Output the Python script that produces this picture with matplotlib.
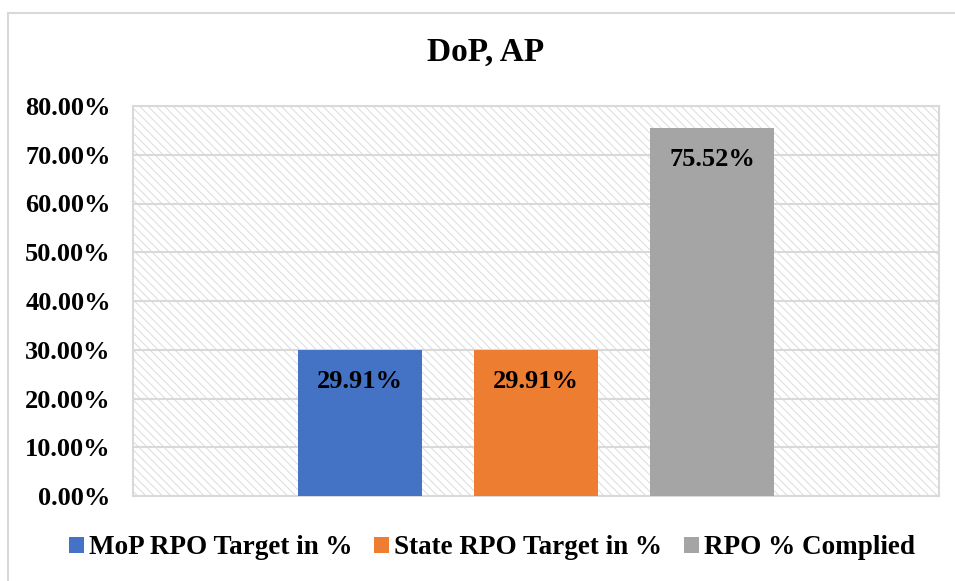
import matplotlib
matplotlib.use("Agg")
import matplotlib.pyplot as plt
from matplotlib.lines import Line2D
from matplotlib.patches import Rectangle
from matplotlib.ticker import FuncFormatter

# data
SERIES = ["MoP RPO Target in %", "State RPO Target in %", "RPO % Complied"]
VALUES = [29.91, 29.91, 75.52]
COLORS = ["#4472C4", "#ED7D31", "#A5A5A5"]
TITLE = "DoP, AP"

GRID = "#d9d9d9"

plt.rcParams["font.family"] = ["Liberation Serif", "DejaVu Serif"]
plt.rcParams["font.weight"] = "bold"
plt.rcParams["hatch.linewidth"] = 0.6
plt.rcParams["hatch.color"] = "#d6d6d6"

fig = plt.figure(figsize=(9.55, 5.81), dpi=100)
ax = fig.add_axes([133 / 955, 1 - 496 / 581, 806 / 955, 390 / 581])

# hatched plot area background
ax.add_patch(Rectangle((0, 0), 1, 1, transform=ax.transAxes, facecolor="white",
                       edgecolor="#d6d6d6", hatch="\\" * 4, linewidth=0, zorder=0))

width = 0.1538
step = 0.2184
for i, (name, val, col) in enumerate(zip(SERIES, VALUES, COLORS)):
    x = (i - 1) * step
    bars = ax.bar([x], [val], width=width, color=col, label=name, zorder=3)
    ax.bar_label(bars, labels=[f"{val:.2f}%"], padding=-31, fontsize=19,
                 fontweight="bold", zorder=4)

ax.set_xlim(-0.5, 0.5)
ax.set_ylim(0, 80)
ax.set_yticks(range(0, 81, 10))
ax.yaxis.set_major_formatter(FuncFormatter(lambda v, p: f"{v:.2f}%"))
ax.set_xticks([])
ax.tick_params(axis="y", length=0, pad=16, labelsize=19)
ax.grid(axis="y", color=GRID, linewidth=1.5, zorder=1)
ax.set_axisbelow(True)
for sp in ax.spines.values():
    sp.set_color(GRID)
    sp.set_linewidth(1.5)

fig.text(486 / 955, 1 - 52 / 581, TITLE, ha="center", va="center",
         fontsize=24, fontweight="bold")

fig.legend(loc="center", bbox_to_anchor=(492 / 955, 1 - 548 / 581), ncol=3,
           frameon=False, fontsize=19.5, handlelength=0.55, handleheight=0.55,
           handletextpad=0.2, columnspacing=0.8)

# outer chart border (only top and left visible)
fig.add_artist(Line2D([8 / 955, 8 / 955], [0, 1 - 13 / 581], color=GRID, linewidth=1.5,
                      transform=fig.transFigure))
fig.add_artist(Line2D([8 / 955, 1], [1 - 13 / 581, 1 - 13 / 581], color=GRID,
                      linewidth=1.5, transform=fig.transFigure))

fig.savefig("out.png", dpi=100)
